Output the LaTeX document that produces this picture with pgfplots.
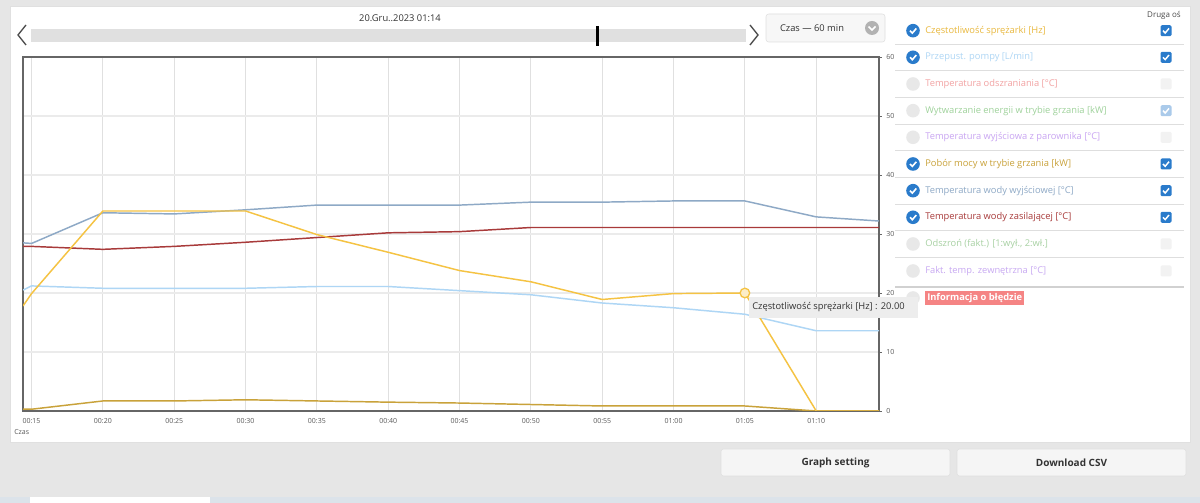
\documentclass[border=0pt]{standalone}
\usepackage{pgfplots}
\pgfplotsset{compat=1.18}
\usepackage{fontspec}
\setmainfont{Open Sans}

\definecolor{pagebg}{HTML}{E6E6E6}
\definecolor{txt}{HTML}{333333}
\definecolor{axc}{HTML}{666666}
\definecolor{cfreq}{HTML}{F5C343}
\definecolor{cflow}{HTML}{AED6F5}
\definecolor{cdefr}{HTML}{F2A3A3}
\definecolor{cenergy}{HTML}{9FD29B}
\definecolor{cevap}{HTML}{C9A5F2}
\definecolor{cpower}{HTML}{C9A23A}
\definecolor{cout}{HTML}{8EA9C6}
\definecolor{csupply}{HTML}{A83A3A}
\definecolor{cdefrost}{HTML}{A8D1A3}
\definecolor{camb}{HTML}{C8A9F2}
\definecolor{uiblue}{HTML}{2A7BCB}
\definecolor{errbg}{HTML}{F58484}
\definecolor{taskbar}{HTML}{DCE3EA}

% legend widgets (y in px from bottom)
\newcommand\oncirc[1]{\fill[uiblue] (913,#1) circle (6.8);
  \draw[white,line width=1.2pt] (910,#1) -- (912.3,#1-2.4) -- (916.3,#1+2.2);}
\newcommand\offcirc[1]{\fill[black!9] (913,#1) circle (6.8);}
\newcommand\cbon[1]{\fill[uiblue,rounded corners=1pt] (1160.5,#1-5.5) rectangle (1171.5,#1+5.5);
  \draw[white,line width=1.1pt] (1163,#1) -- (1165.2,#1-2.3) -- (1169,#1+2.3);}
\newcommand\cblight[1]{\fill[uiblue!40,rounded corners=1pt] (1160.5,#1-5.5) rectangle (1171.5,#1+5.5);
  \draw[white,line width=1.1pt] (1163,#1) -- (1165.2,#1-2.3) -- (1169,#1+2.3);}
\newcommand\cboff[1]{\fill[black!5,rounded corners=1pt] (1160.5,#1-5.5) rectangle (1171.5,#1+5.5);}
\newcommand\legtxt[3]{\node[anchor=west,inner sep=0pt,text=#2] at (925,#1) {#3};}

\begin{document}
\begin{tikzpicture}[x=0.75pt,y=0.75pt,font=\fontsize{7}{8.5}\selectfont]
\fill[pagebg] (0,0) rectangle (1200,503);
\fill[white] (10,61) rectangle (1190,497);
\draw[black!12] (10,61) rectangle (1190,497);
\fill[taskbar] (0,0) rectangle (1200,6);
\fill[white] (30,0) rectangle (210,6);

% time slider
\node[text=txt] at (400,485) {20.Gru..2023 01:14};
\fill[black!12] (31,461) rectangle (746,474);
\fill[black] (596,457) rectangle (598.5,477);
\draw[black!70,line width=1pt] (26,478) -- (18,468) -- (26,458);
\draw[black!70,line width=1pt] (750,478) -- (758,468) -- (750,458);
\draw[black!12,fill=black!3,rounded corners=2pt] (766,461) rectangle (885,489);
\node[text=txt] at (812,475) {Czas — 60 min};
\fill[black!30] (872,475) circle (7);
\draw[white,line width=1.2pt] (868.5,476.5) -- (872,473) -- (875.5,476.5);

\coordinate (axsw) at (23,92);
\begin{axis}[at={(axsw)},anchor=south west,scale only axis,
  width=642pt,height=265.5pt,
  xmin=14.4,xmax=74.4,ymin=0,ymax=60,
  xtick={15,20,...,70},
  xticklabels={00:15,00:20,00:25,00:30,00:35,00:40,00:45,00:50,00:55,01:00,01:05,01:10},
  ytick={0,10,...,60},
  yticklabel pos=right, ytick pos=right,
  grid=major,
  x grid style={black!12,line width=0.75pt},
  y grid style={black!8,line width=1.5pt},
  axis line style={axc,line width=1.2pt},
  major tick length=2pt, tick align=outside,
  xtick style={draw=none}, ytick style={axc,line width=0.5pt},
  ticklabel style={font=\fontsize{5.25}{6}\selectfont,text=black!65},
  /pgf/number format/assume math mode=true,
  every axis plot/.append style={line width=1.1pt,mark=none}]
% Pobor mocy w trybie grzania [kW]
\addplot[cpower] coordinates {(14.4,0.3) (15,0.3) (20,1.7) (25,1.7) (30,1.9) (35,1.7) (40,1.5) (45,1.35) (50,1.1) (55,0.85) (60,0.85) (65,0.85) (70,0) (74.4,0)};
% Temperatura wody zasilajacej [C]
\addplot[csupply] coordinates {(14.4,27.9) (15,27.9) (20,27.4) (25,27.9) (30,28.6) (35,29.4) (40,30.2) (45,30.4) (50,31.1) (55,31.1) (60,31.1) (65,31.1) (70,31.1) (74.4,31.1)};
% Temperatura wody wyjsciowej [C]
\addplot[cout] coordinates {(14.4,28.5) (15,28.4) (20,33.6) (25,33.4) (30,34.1) (35,34.9) (40,34.9) (45,34.9) (50,35.4) (55,35.4) (60,35.6) (65,35.6) (70,32.9) (74.4,32.2)};
% Przepust. pompy [L/min]
\addplot[cflow] coordinates {(14.4,20.5) (15,21.2) (20,20.8) (25,20.8) (30,20.8) (35,21.1) (40,21.1) (45,20.4) (50,19.7) (55,18.3) (60,17.5) (65,16.4) (70,13.6) (74.4,13.6)};
% Czestotliwosc sprezarki [Hz]
\addplot[cfreq] coordinates {(14.4,17.8) (15,19.9) (20,33.9) (25,33.9) (30,33.9) (35,29.9) (40,26.9) (45,23.8) (50,21.9) (55,18.9) (60,19.9) (65,20) (70,0) (74.4,0)};
\addplot[only marks,mark=*,mark size=3.6pt,
  mark options={draw=cfreq,fill=cfreq!30,line width=1pt}] coordinates {(65,20)};
\end{axis}
\node[anchor=west,inner sep=0pt,text=black!65,font=\fontsize{5.25}{6}\selectfont] at (14,71) {Czas};

% legend panel
\node[text=black!70,font=\fontsize{6}{7}\selectfont] at (1164,488) {Druga oś};
\foreach \y in {458.7,432,405.3,378.7,352,325.3,298.7,272,245.3}
  \draw[black!13,line width=0.75pt] (895,\y) -- (1184,\y);
\draw[black!18,line width=1.5pt] (895,216) -- (1184,216);

\oncirc{472.3} \legtxt{472.3}{cfreq!95!black}{Częstotliwość sprężarki [Hz]} \cbon{472.3}
\oncirc{445.7} \legtxt{445.7}{cflow}{Przepust. pompy [L/min]} \cbon{445.7}
\offcirc{419} \legtxt{419}{cdefr}{Temperatura odszraniania [°C]} \cboff{419}
\offcirc{392.3} \legtxt{392.3}{cenergy}{Wytwarzanie energii w trybie grzania [kW]} \cblight{392.3}
\offcirc{365.7} \legtxt{365.7}{cevap}{Temperatura wyjściowa z parownika [°C]} \cboff{365.7}
\oncirc{339} \legtxt{339}{cpower}{Pobór mocy w trybie grzania [kW]} \cbon{339}
\oncirc{312.3} \legtxt{312.3}{cout}{Temperatura wody wyjściowej [°C]} \cbon{312.3}
\oncirc{285.7} \legtxt{285.7}{csupply}{Temperatura wody zasilającej [°C]} \cbon{285.7}
\offcirc{259} \legtxt{259}{cdefrost}{Odszroń (fakt.) [1:wył., 2:wł.]} \cboff{259}
\offcirc{232} \legtxt{232}{camb}{Fakt. temp. zewnętrzna [°C]} \cboff{232}
\offcirc{205}
\node[anchor=west,fill=errbg,text=white,font=\fontsize{7}{8.5}\selectfont\bfseries,
  inner xsep=1.5pt,inner ysep=2pt] at (925,205) {Informacja o błędzie};

% tooltip
\fill[black!7] (749,185) rectangle (918,206);
\node[anchor=west,inner sep=0pt,text=txt] at (752,195.5) {Częstotliwość sprężarki [Hz] : 20.00};

% buttons
\draw[black!12,fill=black!4,rounded corners=2pt] (721,27) rectangle (950,54);
\node[text=txt,font=\fontsize{7.5}{9}\selectfont\bfseries] at (835.5,40.5) {Graph setting};
\draw[black!12,fill=black!4,rounded corners=2pt] (957,27) rectangle (1186,54);
\node[text=txt,font=\fontsize{7.5}{9}\selectfont\bfseries] at (1071.5,40.5) {Download CSV};
\end{tikzpicture}
\end{document}
